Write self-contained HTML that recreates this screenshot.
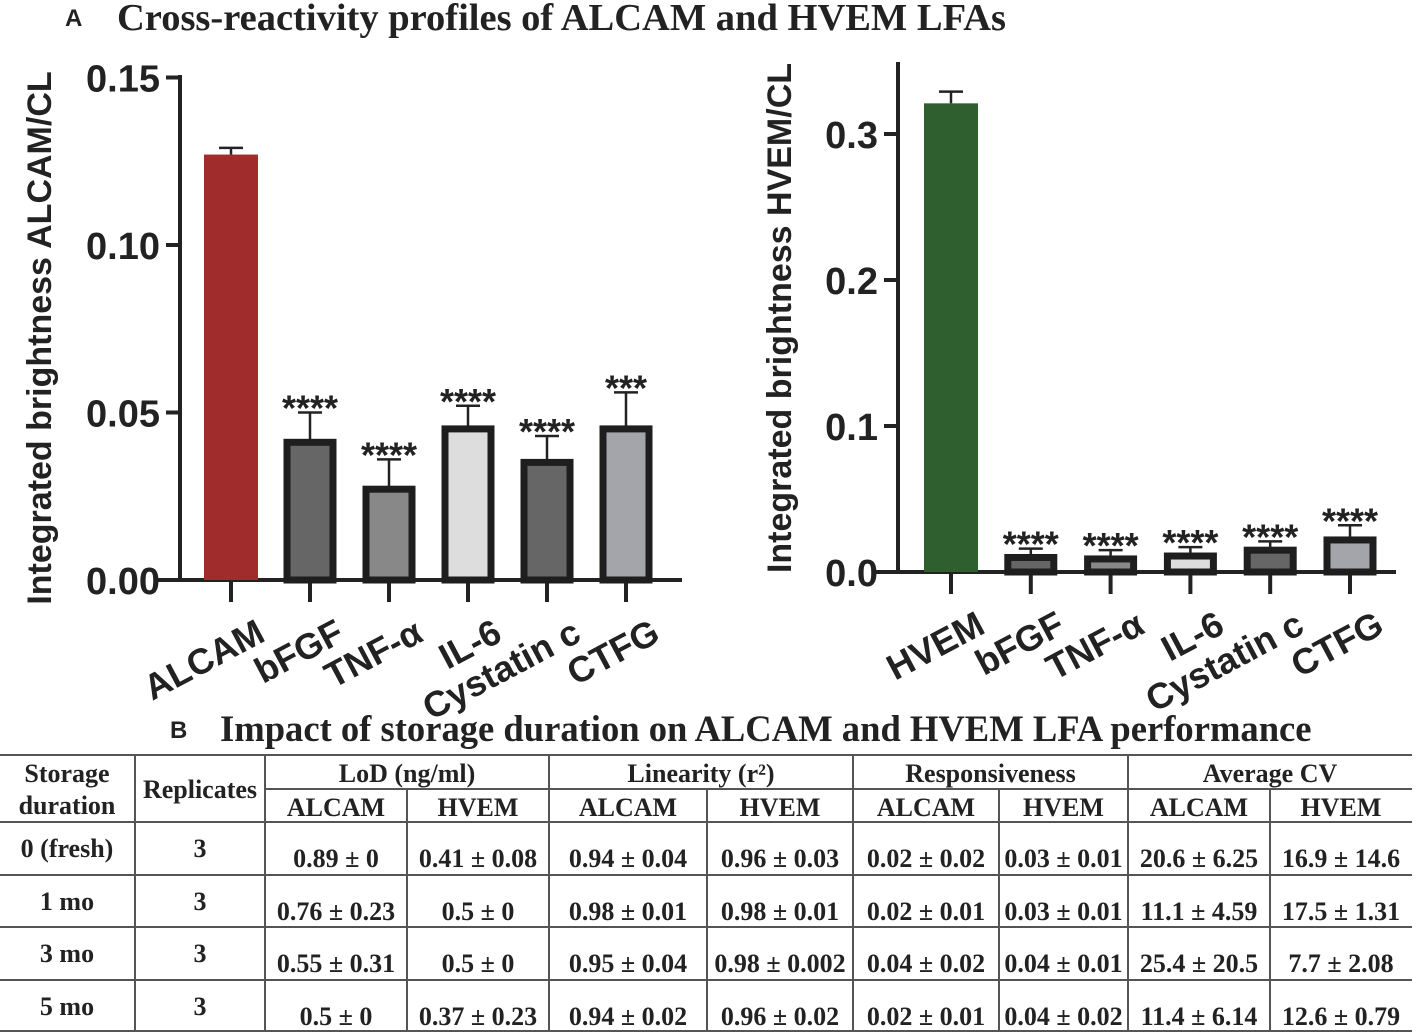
<!DOCTYPE html>
<html><head><meta charset="utf-8"><style>
html,body{margin:0;padding:0;background:#fff;}
svg{display:block;}
.ser{font-family:"Liberation Serif",serif;font-weight:bold;fill:#222;}
.san{font-family:"Liberation Sans",sans-serif;font-weight:bold;fill:#222;}
</style></head><body>
<svg id="fig" width="1417" height="1033" viewBox="0 0 1417 1033" xmlns="http://www.w3.org/2000/svg">
<text class="san" x="65" y="26" font-size="24">A</text>
<text class="ser" x="117" y="30" font-size="38.5">Cross-reactivity profiles of ALCAM and HVEM LFAs</text>
<text class="san" x="170" y="738" font-size="24">B</text>
<text class="ser" x="220" y="741" font-size="36.6">Impact of storage duration on ALCAM and HVEM LFA performance</text>
<g id="left"></g>
<g id="right"></g>
<g id="table"></g>
</svg>
<script>
const NS="http://www.w3.org/2000/svg";
const leftCats=["ALCAM","bFGF","TNF-α","IL-6","Cystatin c","CTFG"];
const leftVals=[0.127,0.042,0.028,0.046,0.036,0.046];
const leftErr=[0.002,0.008,0.008,0.006,0.007,0.010];
const leftStars=["","****","****","****","****","***"];
const leftTicks=[0,0.05,0.10,0.15];
const leftTickLabels=["0.00","0.05","0.10","0.15"];
const rightCats=["HVEM","bFGF","TNF-α","IL-6","Cystatin c","CTFG"];
const rightVals=[0.321,0.012,0.011,0.013,0.017,0.024];
const rightErr=[0.008,0.004,0.004,0.004,0.004,0.008];
const rightStars=["","****","****","****","****","****"];
const rightTicks=[0,0.1,0.2,0.3];
const rightTickLabels=["0.0","0.1","0.2","0.3"];
const fills=["","#666","#888","#ddd","#666","#a4a4ab"];

function mk(tag,attrs,parent,text){const e=document.createElementNS(NS,tag);for(const k in attrs)e.setAttribute(k,attrs[k]);if(text!==undefined)e.textContent=text;parent.appendChild(e);return e;}

function chart(g,cfg){
  const y=v=>cfg.y0-(v/cfg.unit)*cfg.ppu;
  const x=i=>cfg.x0+i*cfg.step;
  const ya=mk("line",{x1:cfg.ax,y1:cfg.top,x2:cfg.ax,y2:cfg.y0,stroke:"#222","stroke-width":4},g);
  
  
  const xa=mk("line",{x1:cfg.xs,y1:cfg.y0,x2:cfg.xe,y2:cfg.y0,stroke:"#222","stroke-width":4},g);
  
  
  cfg.ticks.forEach((t,i)=>{
    mk("line",{x1:cfg.ax-14,y1:y(t),x2:cfg.ax,y2:y(t),stroke:"#222","stroke-width":4},g);
    const tl=mk("text",{x:cfg.ax-20,y:y(t)+14,"text-anchor":"end","font-size":38,class:"san"},g,cfg.tickLabels[i]);
    
    
  });
  const yt=mk("text",{transform:`translate(${cfg.ytx},${cfg.yty}) rotate(-90)`,"text-anchor":"middle","font-size":34,class:"san"},g,cfg.ytitle);
  
  
  const bw=46;
  cfg.cats.forEach((c,i)=>{
    const cx=x(i);
    mk("line",{x1:cx,y1:cfg.y0,x2:cx,y2:cfg.y0+22,stroke:"#222","stroke-width":4},g);
    const top=y(cfg.vals[i]);
    const et=y(cfg.vals[i]+cfg.err[i]);
    mk("line",{x1:cx,y1:top,x2:cx,y2:et,stroke:"#222","stroke-width":2.5},g);
    mk("line",{x1:cx-12,y1:et,x2:cx+12,y2:et,stroke:"#222","stroke-width":2.5},g);
    let b;
    if(i===0){
      b=mk("rect",{x:cx-27,y:top,width:54,height:cfg.y0-top,fill:cfg.first},g);
    } else {
      b=mk("rect",{x:cx-bw/2,y:top+3,width:bw,height:cfg.y0-top-3,fill:fills[i],stroke:"#1e1e1e","stroke-width":7},g);
    }
    
    
    if(cfg.stars[i]){
      const s=mk("text",{x:cx,y:et+8,"text-anchor":"middle","font-size":36,class:"san"},g,cfg.stars[i]);
      
      
    }
    const cl=mk("text",{transform:`translate(${cx+36},${cfg.y0+60}) rotate(-28)`,"text-anchor":"end","font-size":36,class:"san"},g,c);
    
    
  });
}
chart(document.getElementById("left"),{y0:580,unit:0.05,ppu:167.5,ax:180,top:75,xs:155,xe:682,x0:231,step:79,
  cats:leftCats,vals:leftVals,err:leftErr,stars:leftStars,ticks:leftTicks,tickLabels:leftTickLabels,first:"#a02c2c",
  ytitle:"Integrated brightness ALCAM/CL",ytx:51,yty:338});
chart(document.getElementById("right"),{y0:572,unit:0.1,ppu:146,ax:898,top:62,xs:876,xe:1396,x0:951,step:79.8,
  cats:rightCats,vals:rightVals,err:rightErr,stars:rightStars,ticks:rightTicks,tickLabels:rightTickLabels,first:"#2f5f2f",
  ytitle:"Integrated brightness HVEM/CL",ytx:791,yty:318});

const tg=document.getElementById("table");
const cols=[0,135,265,407,549,707,853,999,1128,1270,1412];
const rowsY=[755,789,822,875,927,980,1031];
const groups=["LoD (ng/ml)","Linearity (r²)","Responsiveness","Average CV"];
const sub=["ALCAM","HVEM"];
const rowLabels=["0 (fresh)","1 mo","3 mo","5 mo"];
const cells=[
 ["0.89 ± 0","0.41 ± 0.08","0.94 ± 0.04","0.96 ± 0.03","0.02 ± 0.02","0.03 ± 0.01","20.6 ± 6.25","16.9 ± 14.6"],
 ["0.76 ± 0.23","0.5 ± 0","0.98 ± 0.01","0.98 ± 0.01","0.02 ± 0.01","0.03 ± 0.01","11.1 ± 4.59","17.5 ± 1.31"],
 ["0.55 ± 0.31","0.5 ± 0","0.95 ± 0.04","0.98 ± 0.002","0.04 ± 0.02","0.04 ± 0.01","25.4 ± 20.5","7.7 ± 2.08"],
 ["0.5 ± 0","0.37 ± 0.23","0.94 ± 0.02","0.96 ± 0.02","0.02 ± 0.01","0.04 ± 0.02","11.4 ± 6.14","12.6 ± 0.79"]];
function L(x1,y1,x2,y2){mk("line",{x1,y1,x2,y2,stroke:"#555","stroke-width":2},tg);}
function T(x,y,s,name){const t=mk("text",{x,y,"text-anchor":"middle","font-size":26,class:"ser"},tg,s);}
L(0,755,1412,755);L(265,789,1412,789);
for(let r=2;r<rowsY.length;r++)L(0,rowsY[r],1412,rowsY[r]);
[135,265,549,853,1128].forEach(c=>L(c,755,c,1031));
[407,707,999,1270].forEach(c=>L(c,789,c,1031));
T(67,782,"Storage","header-storage");T(67,814,"duration","header-storage");
T(200,798,"Replicates","header-replicates");
groups.forEach((g,i)=>T((cols[2+2*i]+cols[4+2*i])/2,782,g,"header-group"));
for(let i=0;i<8;i++)T((cols[2+i]+cols[3+i])/2,816,sub[i%2],"header-sub");
rowLabels.forEach((rl,r)=>{
  const yt=rowsY[r+2];
  T(67,yt+35,rl,"row-label");T(200,yt+35,"3","replicates-cell");
  cells[r].forEach((c,i)=>T((cols[2+i]+cols[3+i])/2,yt+45,c,"table-cell"));
});
</script>
</body></html>
